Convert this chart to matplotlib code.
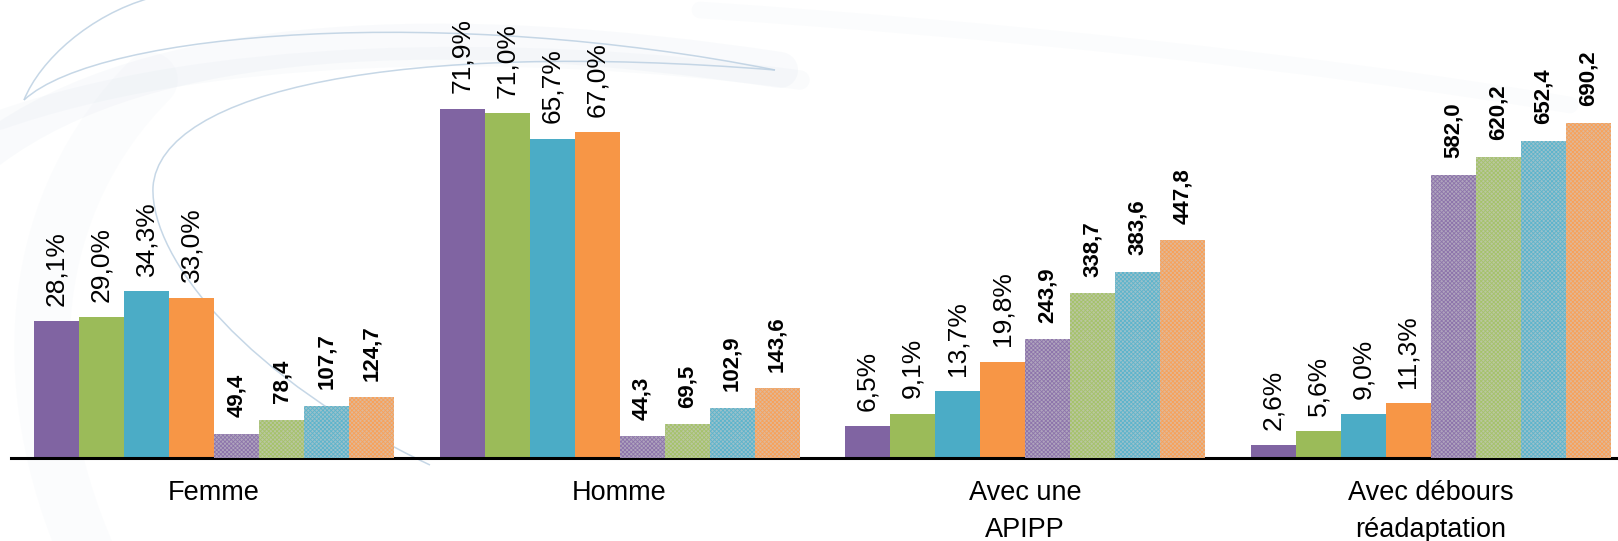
import matplotlib
matplotlib.use("Agg")
import matplotlib.pyplot as plt
import matplotlib.colors as mcolors
from matplotlib.path import Path
from matplotlib.patches import PathPatch
import numpy as np

plt.rcParams['font.family'] = ['Liberation Sans', 'DejaVu Sans']
plt.rcParams['hatch.linewidth'] = 0.6

categories = ["Femme", "Homme", "Avec une\nAPIPP", "Avec débours\nréadaptation"]
pct_2008 = [28.1, 71.9, 6.5, 2.6]
pct_2009 = [29.0, 71.0, 9.1, 5.6]
pct_2010 = [34.3, 65.7, 13.7, 9.0]
pct_2011 = [33.0, 67.0, 19.8, 11.3]
amt_2008 = [49.4, 44.3, 243.9, 582.0]
amt_2009 = [78.4, 69.5, 338.7, 620.2]
amt_2010 = [107.7, 102.9, 383.6, 652.4]
amt_2011 = [124.7, 143.6, 447.8, 690.2]

colors = ["#8064A2", "#9BBB59", "#4BACC6", "#F79646"]

W, H = 1618, 541
fig = plt.figure(figsize=(W / 100, H / 100), dpi=100)
fig.patch.set_facecolor("white")

# decorative background swoosh (figure pixel coords, y from top)
def bez(pts):
    verts = [(x / W, 1 - y / H) for x, y in pts]
    codes = [Path.MOVETO] + [Path.CURVE4] * (len(verts) - 1)
    return Path(verts, codes)

bands = [
    ([(-10, 150), (150, 30), (450, 20), (780, 70)], 26, 0.06),
    ([(0, 120), (200, 50), (500, 40), (800, 80)], 14, 0.05),
    ([(700, 10), (1000, 30), (1300, 60), (1570, 105)], 12, 0.035),
    ([(90, 560), (10, 380), (30, 200), (150, 80)], 40, 0.03),
]
for pts, lw, a in bands:
    fig.patches.append(PathPatch(bez(pts), transform=fig.transFigure, fill=False,
                                 edgecolor="#9fbad3", lw=lw, alpha=a,
                                 capstyle="round", zorder=-5))
lines = [
    [(24, 100), (40, 60), (90, 15), (150, -2)],
    [(24, 100), (100, 30), (450, 5), (775, 70)],
    [(153, 187), (160, 90), (400, 40), (775, 70)],
    [(153, 187), (150, 260), (250, 380), (430, 465)],
]
for pts in lines:
    fig.patches.append(PathPatch(bez(pts), transform=fig.transFigure, fill=False,
                                 edgecolor="#bcd0e2", lw=1.1, alpha=0.85, zorder=-4))

ax = fig.add_axes([11 / W, (H - 458) / H, 1 - 11 / W, 458 / H])
ax.patch.set_alpha(0)
ax2 = ax.twinx()
ax2.patch.set_alpha(0)

x = np.arange(len(categories))
bw = 45 / 405.5
pct_series = [pct_2008, pct_2009, pct_2010, pct_2011]
amt_series = [amt_2008, amt_2009, amt_2010, amt_2011]

def blend(c, other, f):
    a = np.array(mcolors.to_rgb(c))
    b = np.array(mcolors.to_rgb(other))
    return tuple(a + (b - a) * f)

for k, (vals, col) in enumerate(zip(pct_series, colors)):
    pos = x + (k - 3.5) * bw
    bars = ax.bar(pos, vals, width=bw, color=col, edgecolor="none", linewidth=0)
    for b, v in zip(bars, vals):
        ax.annotate(f"{v:.1f}%".replace(".", ","),
                    (b.get_x() + b.get_width() / 2, b.get_height()),
                    xytext=(0, 11), textcoords="offset points",
                    rotation=90, ha="center", va="bottom", fontsize=19)

for k, (vals, col) in enumerate(zip(amt_series, colors)):
    pos = x + (k + 0.5) * bw
    bars = ax2.bar(pos, vals, width=bw, facecolor=blend(col, "#cfcfcf", 0.6),
                   edgecolor=blend(col, "#ffffff", 0.1), linewidth=0,
                   hatch="xxxxxxxx")
    for b, v in zip(bars, vals):
        ax2.annotate(f"{v:.1f}".replace(".", ","),
                     (b.get_x() + b.get_width() / 2, b.get_height()),
                     xytext=(0, 12), textcoords="offset points",
                     rotation=90, ha="center", va="bottom", fontsize=16,
                     fontweight="bold")

ax.set_xlim((11 - 214) / 405.5, (1618 - 214) / 405.5)
ax.set_ylim(0, 458 / 4.86)
ax2.set_ylim(0, 4580 / 4.86)

for a in (ax, ax2):
    for s in ("top", "right", "left", "bottom"):
        a.spines[s].set_visible(False)
    a.set_yticks([])
ax.spines["bottom"].set_visible(True)
ax.spines["bottom"].set_linewidth(2.2)
ax.spines["bottom"].set_color("black")
ax.set_xticks(x)
ax.set_xticklabels(categories, fontsize=19.5, linespacing=1.55)
ax.tick_params(axis="x", length=0, pad=16)

fig.savefig("out.png", dpi=100, facecolor="white")
